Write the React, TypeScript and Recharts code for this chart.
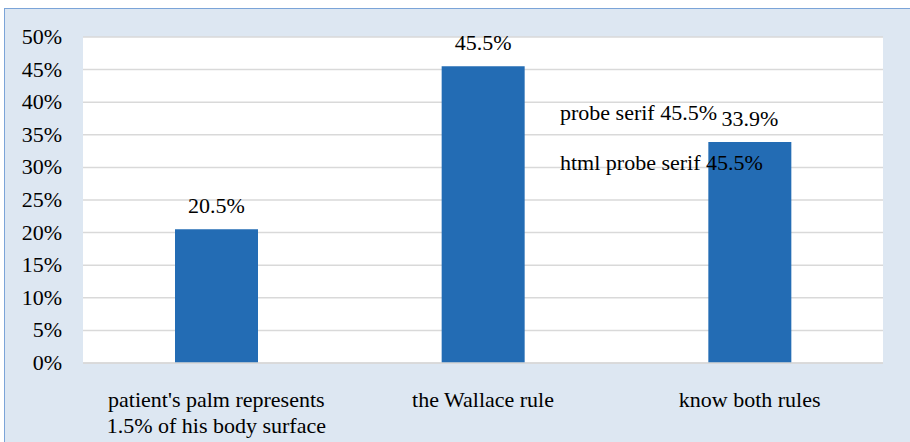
import { Bar, BarChart, CartesianGrid, Customized, LabelList, XAxis, YAxis } from "recharts";

const categories = [
  "patient's palm represents\n1.5% of his body surface",
  "the Wallace rule",
  "know both rules",
];
const shares = [20.5, 45.5, 33.9];
const yTicks = [0, 5, 10, 15, 20, 25, 30, 35, 40, 45, 50];

const rows = categories.map((c, i) => ({ name: c, value: shares[i] }));

const FONT = "Liberation Serif";

function CategoryTick(props: any) {
  const { x, y, payload } = props;
  const lines = String(payload.value).split("\n");
  return (
    <text x={x} y={y} textAnchor="middle" fontFamily={FONT} fontSize={22}>
      {lines.map((ln, i) => (
        <tspan key={i} x={x} dy={i === 0 ? 36 : 26}>
          {ln}
        </tspan>
      ))}
    </text>
  );
}

function ValueTick(props: any) {
  const { x, y, payload } = props;
  return (
    <text x={x} y={y + 7} textAnchor="end" fontFamily={FONT} fontSize={22}>
      {`${payload.value}%`}
    </text>
  );
}

function BarValue(props: any) {
  const { x, y, width, value } = props;
  return (
    <text x={x + width / 2} y={y - 16} textAnchor="middle" fontFamily={FONT} fontSize={22}>
      {`${value}%`}
    </text>
  );
}

function Probe() {
  return (
    <text x={560} y={120} fontFamily={FONT} fontSize={22}>
      probe serif 45.5%
    </text>
  );
}

export default function App() {
  return (
    <div
      style={{
        position: "fixed",
        left: 0,
        top: 0,
        width: 910,
        height: 442,
        overflow: "hidden",
        background: "#fff",
      }}
    >
      <div
        style={{
          position: "absolute",
          left: 4,
          top: 8,
          width: 920,
          height: 460,
          background: "#dde7f2",
          border: "1.5px solid #7ba4d8",
          boxSizing: "border-box",
        }}
      />
      <div style={{ position: "absolute", left: 0, top: 0 }}>
        <BarChart
          width={910}
          height={442}
          data={rows}
          margin={{ top: 37, right: 27, bottom: 0, left: 23 }}
          barCategoryGap="34.5%"
        >
          <CartesianGrid vertical={false} stroke="#d9d9d9" strokeWidth={1.5} fill="#ffffff" />
          <XAxis
            dataKey="name"
            axisLine={{ stroke: "#d9d9d9", strokeWidth: 1.5 }}
            tickLine={false}
            interval={0}
            height={79}
            tick={<CategoryTick />}
          />
          <YAxis
            width={60}
            domain={[0, 50]}
            ticks={yTicks}
            interval={0}
            axisLine={false}
            tickLine={false}
            tickSize={0}
            tickMargin={21}
            tick={<ValueTick />}
          />
          <Bar dataKey="value" fill="#236cb4" isAnimationActive={false}>
            <LabelList dataKey="value" content={<BarValue />} />
          </Bar>
          <Customized component={Probe} />
        </BarChart>
      </div>
      <div style={{ position: "absolute", left: 560, top: 150, fontFamily: FONT, fontSize: 22 }}>
        html probe serif 45.5%
      </div>
    </div>
  );
}
